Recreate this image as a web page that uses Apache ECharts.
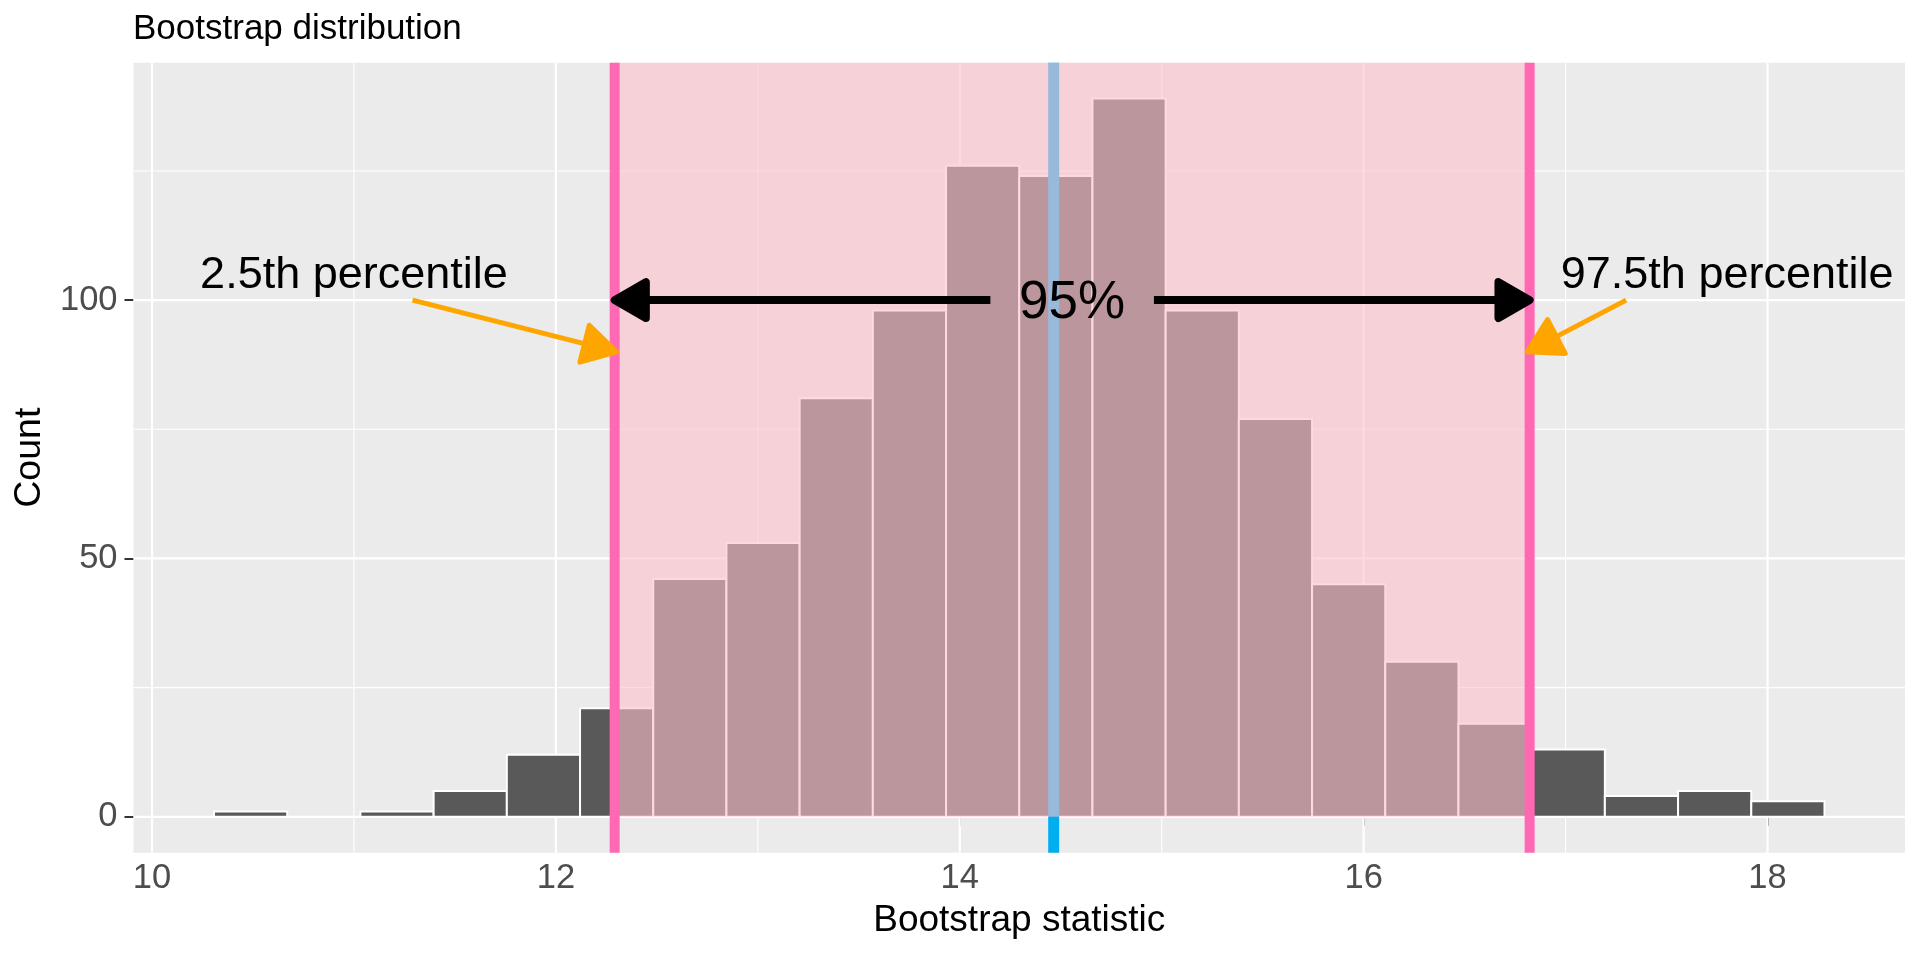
<!DOCTYPE html>
<html>
<head>
<meta charset="utf-8">
<title>Bootstrap distribution</title>
<script src="https://cdn.jsdelivr.net/npm/echarts@6/dist/echarts.min.js"></script>
<style>
  html, body { margin: 0; padding: 0; background: #fff; }
  #chart { width: 1920px; height: 960px; }
</style>
</head>
<body>
<div id="chart"></div>
<script>
// histogram of the bootstrap statistic
var binStart = 10.307;
var binWidth = 0.3625;
var counts = [1, 0, 1, 5, 12, 21, 46, 53, 81, 98, 126, 124, 139, 98, 77, 45, 30, 18, 13, 4, 5, 3];

// confidence interval bounds and observed statistic
var ciBounds = [12.291, 16.822];
var observedStat = 14.465;

// axis ticks
var xTicks = [10, 12, 14, 16, 18];
var xMinorTicks = [11, 13, 15, 17];
var yTicks = [0, 50, 100];
var yMinorTicks = [25, 75, 125];

// annotations (data units)
var pctLabels = ['2.5th percentile', '97.5th percentile'];
var pctLabelX = [11.0, 17.8];
var pctLabelY = 104.8;
var pctArrowFrom = [[11.29, 100], [17.30, 100]];
var pctArrowTo = [[12.30, 90], [16.81, 90]];
var spanLabel = '95%';
var spanY = 100;
var spanLabelY = 99.3;
var spanGap = 0.405;

var FONT = '"Liberation Sans", Arial, Helvetica, sans-serif';

// ggplot-like 5% expansion
var binEnd = binStart + counts.length * binWidth;
var xPad = (binEnd - binStart) * 0.05;
var xMin = binStart - xPad, xMax = binEnd + xPad;
var yTop = Math.max.apply(null, counts);
var yMin = -yTop * 0.05, yMax = yTop * 1.05;

var chart = echarts.init(document.getElementById('chart'));

function seg(api, a, b, style) {
  var p = api.coord(a), q = api.coord(b);
  return { type: 'line', shape: { x1: p[0], y1: p[1], x2: q[0], y2: q[1] }, style: style };
}

function arrow(api, from, to, color, width, headLen) {
  var p = api.coord(from), q = api.coord(to);
  var ang = Math.atan2(q[1] - p[1], q[0] - p[0]);
  var a1 = ang + Math.PI - Math.PI / 6, a2 = ang + Math.PI + Math.PI / 6;
  var h1 = [q[0] + headLen * Math.cos(a1), q[1] + headLen * Math.sin(a1)];
  var h2 = [q[0] + headLen * Math.cos(a2), q[1] + headLen * Math.sin(a2)];
  var back = headLen * Math.cos(Math.PI / 6) * 0.8;
  var bx = q[0] - back * Math.cos(ang), by = q[1] - back * Math.sin(ang);
  return [
    { type: 'line', shape: { x1: p[0], y1: p[1], x2: bx, y2: by },
      style: { stroke: color, lineWidth: width, lineCap: 'butt' } },
    { type: 'polygon', shape: { points: [q, h1, h2] },
      style: { fill: color, stroke: color, lineWidth: width, lineJoin: 'round' } }
  ];
}

var option = {
  animation: false,
  title: {
    text: 'Bootstrap distribution',
    left: 133,
    top: 12,
    padding: 0,
    textStyle: { fontFamily: FONT, fontSize: 35, fontWeight: 'normal', color: '#000' }
  },
  grid: {
    left: 133.5, top: 62.7, width: 1771.5, height: 790,
    show: true, backgroundColor: '#EBEBEB', borderWidth: 0
  },
  xAxis: {
    type: 'value', min: xMin, max: xMax,
    name: 'Bootstrap statistic', nameLocation: 'middle', nameGap: 50,
    nameTextStyle: { fontFamily: FONT, fontSize: 37, color: '#000' },
    axisLine: { show: false },
    axisTick: { show: true, length: 9, customValues: xTicks, lineStyle: { color: '#333', width: 2 } },
    axisLabel: { customValues: xTicks, margin: 8, fontFamily: FONT, fontSize: 34.5, color: '#4D4D4D' },
    splitLine: { show: false }
  },
  yAxis: {
    type: 'value', min: yMin, max: yMax,
    name: 'Count', nameLocation: 'middle', nameGap: 83,
    nameTextStyle: { fontFamily: FONT, fontSize: 37.5, color: '#000' },
    axisLine: { show: false },
    axisTick: { show: true, length: 9, customValues: yTicks, lineStyle: { color: '#333', width: 2 } },
    axisLabel: { customValues: yTicks, margin: 16, fontFamily: FONT, fontSize: 34.5, color: '#4D4D4D' },
    splitLine: { show: false }
  },
  series: [
    { // panel grid lines
      type: 'custom', z: 1, silent: true,
      data: [[xMin, 0]],
      renderItem: function (params, api) {
        var kids = [];
        var minor = { stroke: '#fff', lineWidth: 1.1 };
        var major = { stroke: '#fff', lineWidth: 2.2 };
        xMinorTicks.forEach(function (v) { kids.push(seg(api, [v, yMin], [v, yMax], minor)); });
        yMinorTicks.forEach(function (v) { kids.push(seg(api, [xMin, v], [xMax, v], minor)); });
        xTicks.forEach(function (v) { kids.push(seg(api, [v, yMin], [v, yMax], major)); });
        yTicks.forEach(function (v) { kids.push(seg(api, [xMin, v], [xMax, v], major)); });
        return { type: 'group', children: kids };
      }
    },
    { // histogram bars
      type: 'custom', z: 2, silent: true,
      data: counts.map(function (c, i) { return [binStart + i * binWidth, c]; }),
      renderItem: function (params, api) {
        var x0 = api.value(0), c = api.value(1);
        if (!c) return null;
        var p = api.coord([x0, c]), q = api.coord([x0 + binWidth, 0]);
        return { type: 'rect', shape: { x: p[0], y: p[1], width: q[0] - p[0], height: q[1] - p[1] },
                 style: { fill: '#595959', stroke: '#fff', lineWidth: 2 } };
      }
    },
    { // observed statistic
      type: 'custom', z: 3, silent: true,
      data: [[observedStat, 0]],
      renderItem: function (params, api) {
        var v = api.value(0);
        return seg(api, [v, yMin], [v, yMax], { stroke: '#00AEEF', lineWidth: 11 });
      }
    },
    { // shaded confidence interval
      type: 'custom', z: 4, silent: true,
      data: [[ciBounds[0], ciBounds[1]]],
      renderItem: function (params, api) {
        var p = api.coord([api.value(0), yMax]), q = api.coord([api.value(1), 0]);
        return { type: 'rect', shape: { x: p[0], y: p[1], width: q[0] - p[0], height: q[1] - p[1] },
                 style: { fill: 'rgba(255,192,203,0.6)' } };
      }
    },
    { // interval bounds
      type: 'custom', z: 5, silent: true,
      data: ciBounds.map(function (v) { return [v, 0]; }),
      renderItem: function (params, api) {
        var v = api.value(0);
        return seg(api, [v, yMin], [v, yMax], { stroke: '#FF69B4', lineWidth: 10 });
      }
    },
    { // annotations
      type: 'custom', z: 6, silent: true,
      data: [[0, 0]],
      renderItem: function (params, api) {
        var kids = [];
        var mid = (ciBounds[0] + ciBounds[1]) / 2;
        kids = kids.concat(arrow(api, [mid - spanGap, spanY], [ciBounds[0], spanY], '#000', 8, 36));
        kids = kids.concat(arrow(api, [mid + spanGap, spanY], [ciBounds[1], spanY], '#000', 8, 36));
        var c = api.coord([mid, spanLabelY]);
        kids.push({ type: 'text', x: c[0], y: c[1],
          style: { text: spanLabel, fontFamily: FONT, fontSize: 53, fill: '#000', align: 'center', verticalAlign: 'middle' } });
        for (var i = 0; i < 2; i++) {
          kids = kids.concat(arrow(api, pctArrowFrom[i], pctArrowTo[i], '#FFA500', 5, 38));
          var t = api.coord([pctLabelX[i], pctLabelY]);
          kids.push({ type: 'text', x: t[0], y: t[1],
            style: { text: pctLabels[i], fontFamily: FONT, fontSize: 45, fill: '#000', align: 'center', verticalAlign: 'middle' } });
        }
        return { type: 'group', children: kids };
      }
    }
  ]
};

chart.setOption(option);
</script>
</body>
</html>
